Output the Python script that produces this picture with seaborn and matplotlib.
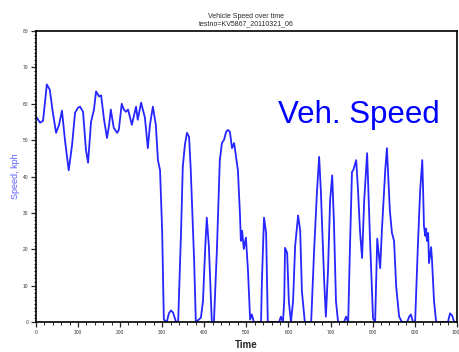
"""Vehicle speed over time for one test run."""
import numpy as np
import pandas as pd
import matplotlib
matplotlib.use("Agg")
import matplotlib.pyplot as plt
import seaborn as sns
from matplotlib.ticker import MultipleLocator

TITLE = "Vehicle Speed over time\ntestno=KV5867_20110321_06"
BLUE = "#0000ff"

# values (time in s, speed in kph)
time = [
    2, 10, 17, 26, 33, 40, 48, 55, 62, 69, 78, 86, 93, 100, 105, 112, 119, 124,
    131, 138, 143, 150, 155, 162, 169, 174, 178, 185, 193, 197, 204, 209, 214,
    219, 228, 238, 242, 250, 259, 266, 271, 278, 285, 290, 295, 300, 304, 311,
    316, 321, 326, 333, 338, 345, 349, 354, 359, 364, 368, 376, 380, 387, 392,
    397, 402, 406, 411, 418, 423, 430, 437, 442, 447, 452, 456, 461, 466, 471,
    475, 480, 485, 487, 490, 494, 499, 504, 509, 513, 518, 535, 537, 542, 547,
    551, 578, 582, 587, 590, 592, 597, 601, 606, 611, 616, 623, 628, 632, 639,
    654, 661, 668, 673, 677, 685, 689, 694, 699, 704, 708, 713, 718, 732, 737,
    742, 746, 751, 754, 761, 765, 770, 775, 780, 787, 794, 801, 806, 811, 818,
    822, 830, 834, 841, 846, 851, 856, 863, 870, 882, 887, 891, 896, 901, 908,
    913, 918, 920, 922, 925, 927, 929, 932, 934, 939, 941, 946, 951, 979, 984,
    989, 994, 1000,
]
speed = [
    56.2, 54.8, 55.3, 65.3, 63.9, 57.8, 52.0, 54.2, 58.1, 50.1, 41.7, 48.7,
    57.5, 58.9, 59.2, 57.8, 47.3, 43.8, 55.0, 58.4, 63.4, 62.0, 62.3, 55.6,
    50.6, 54.2, 58.4, 53.4, 52.0, 52.8, 60.0, 58.4, 57.8, 58.4, 54.2, 59.2,
    55.6, 60.3, 56.2, 47.8, 54.2, 59.2, 54.2, 44.5, 41.7, 25.1, 0.7, 0.0,
    2.4, 3.2, 2.6, 0.0, 0.0, 25.1, 42.6, 48.7, 52.0, 50.9, 41.7, 16.8, 0.0,
    0.7, 1.2, 5.7, 19.6, 28.7, 20.9, 0.0, 0.0, 19.6, 44.5, 49.2, 50.1, 52.3,
    52.8, 52.3, 47.8, 49.2, 45.9, 41.7, 29.3, 22.3, 25.1, 20.1, 23.2, 14.0,
    0.7, 2.1, 0.0, 0.0, 11.2, 28.7, 24.5, 0.0, 0.0, 1.5, 0.0, 5.7, 20.4,
    19.0, 5.7, 0.0, 5.7, 20.9, 29.3, 25.1, 8.5, 0.0, 0.0, 19.6, 36.2, 45.4,
    36.2, 11.2, 1.5, 14.0, 33.4, 40.3, 27.9, 5.7, 0.0, 0.0, 1.5, 0.0, 19.6,
    41.3, 41.7, 44.5, 37.0, 25.1, 17.6, 33.4, 46.4, 22.3, 1.0, 0.0, 22.9,
    14.8, 25.1, 41.7, 47.8, 30.6, 24.5, 22.3, 9.8, 1.5, 0.0, 0.0, 1.5, 2.1,
    0.0, 0.0, 22.3, 36.2, 44.5, 36.2, 26.5, 23.7, 25.7, 22.3, 24.5, 16.2,
    20.6, 17.3, 5.7, 0.0, 0.0, 2.4, 1.8, 0.0, 0.0,
]
x_ticks = [0, 100, 200, 300, 400, 500, 600, 700, 800, 900, 1000]
y_ticks = [0, 10, 20, 30, 40, 50, 60, 70, 80]


def main():
    sns.set_style("ticks")
    plt.rcParams["font.family"] = ["Liberation Sans", "DejaVu Sans"]

    data = pd.DataFrame({"Time": time, "Speed": speed})

    fig = plt.figure(figsize=(4.6, 3.52), dpi=100)
    ax = fig.add_axes([0.078, 0.085, 0.915, 0.827])

    sns.lineplot(data=data, x="Time", y="Speed", color=BLUE, linewidth=1.3,
                 alpha=0.85, ax=ax)

    ax.set_xlim(0, 1000)
    ax.set_ylim(0, 80)
    ax.set_xticks(x_ticks)
    ax.set_yticks(y_ticks)
    ax.set_xticklabels([str(t) for t in x_ticks], fontsize=3.5, color="#333333")
    ax.set_yticklabels([str(t) for t in y_ticks], fontsize=3.5, color="#333333")
    ax.xaxis.set_minor_locator(MultipleLocator(20))
    ax.yaxis.set_minor_locator(MultipleLocator(1))
    ax.tick_params(which="major", direction="out", length=3.5, width=0.9, pad=2)
    ax.tick_params(which="minor", direction="out", length=1.8, width=0.7)
    for spine in ax.spines.values():
        spine.set_linewidth(1.2)
        spine.set_color("black")

    ax.set_xlabel("Time", fontsize=7, fontweight="bold", labelpad=4)
    ax.set_ylabel("Speed, kph", fontsize=6.5, color="#5a5aff", labelpad=2)
    ax.set_title(TITLE, fontsize=5, linespacing=1.0, pad=4)

    ax.text(0.575, 0.684, "Veh. Speed", transform=ax.transAxes,
            fontsize=22.5, color=BLUE, va="baseline", ha="left")

    fig.savefig("out.png", dpi=100)


if __name__ == "__main__":
    main()
